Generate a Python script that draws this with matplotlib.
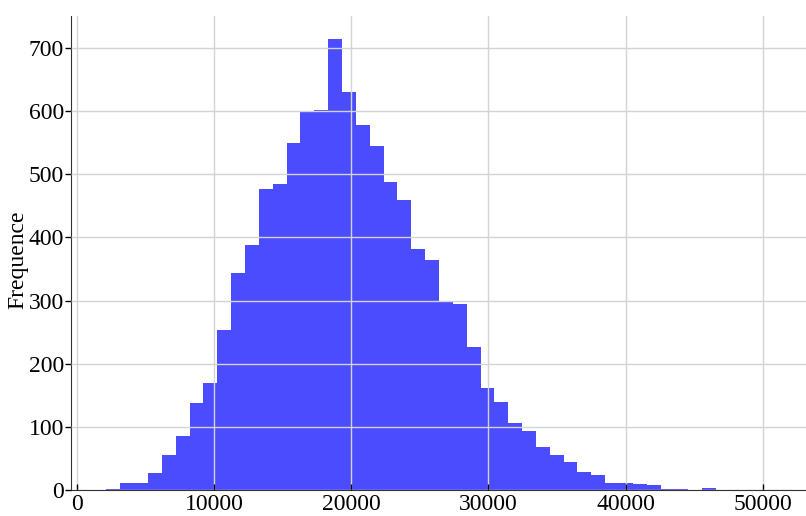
import numpy as np
import matplotlib
matplotlib.use("Agg")
import matplotlib.pyplot as plt

# bin counts (50 equal-width bins)
counts = [2, 11, 11, 27, 55, 86, 138, 170, 253, 344,
          388, 477, 484, 549, 598, 601, 713, 630, 578, 545,
          488, 459, 381, 364, 300, 294, 227, 162, 139, 106,
          94, 68, 55, 45, 28, 24, 12, 11, 10, 8,
          2, 2, 1, 3, 1, 1, 1, 1, 0, 1]
bin_start = 2150
bin_width = 1010
edges = bin_start + bin_width * np.arange(len(counts) + 1)

x_ticks = [0, 10000, 20000, 30000, 40000, 50000]
y_ticks = [0, 100, 200, 300, 400, 500, 600, 700]

plt.rcParams['font.family'] = ['Liberation Serif', 'DejaVu Serif']

fig = plt.figure(figsize=(8.06, 5.16), dpi=100)
ax = fig.add_axes([0.088, 0.05, 0.912, 0.919])

ax.hist(edges[:-1], bins=edges, weights=counts, color='blue', alpha=0.7,
        histtype='stepfilled', linewidth=0)

ax.set_xlim(-440, 53150)
ax.set_ylim(0, 750)
ax.set_xticks(x_ticks)
ax.set_yticks(y_ticks)
ax.tick_params(axis='y', labelsize=17, length=4, width=1, direction='out', pad=1)
ax.tick_params(axis='x', labelsize=17, length=4, width=1, direction='in', pad=3)

ax.grid(True, color='#d4d4d4', linewidth=1)
ax.set_axisbelow(False)
for s in ['top', 'right']:
    ax.spines[s].set_visible(False)
ax.spines['left'].set_color('#333333')
ax.spines['bottom'].set_color('#333333')

ax.set_ylabel('Frequence', fontsize=17)
ax.yaxis.set_label_coords(-0.058, 0.485)

fig.savefig('out.png', dpi=100)
